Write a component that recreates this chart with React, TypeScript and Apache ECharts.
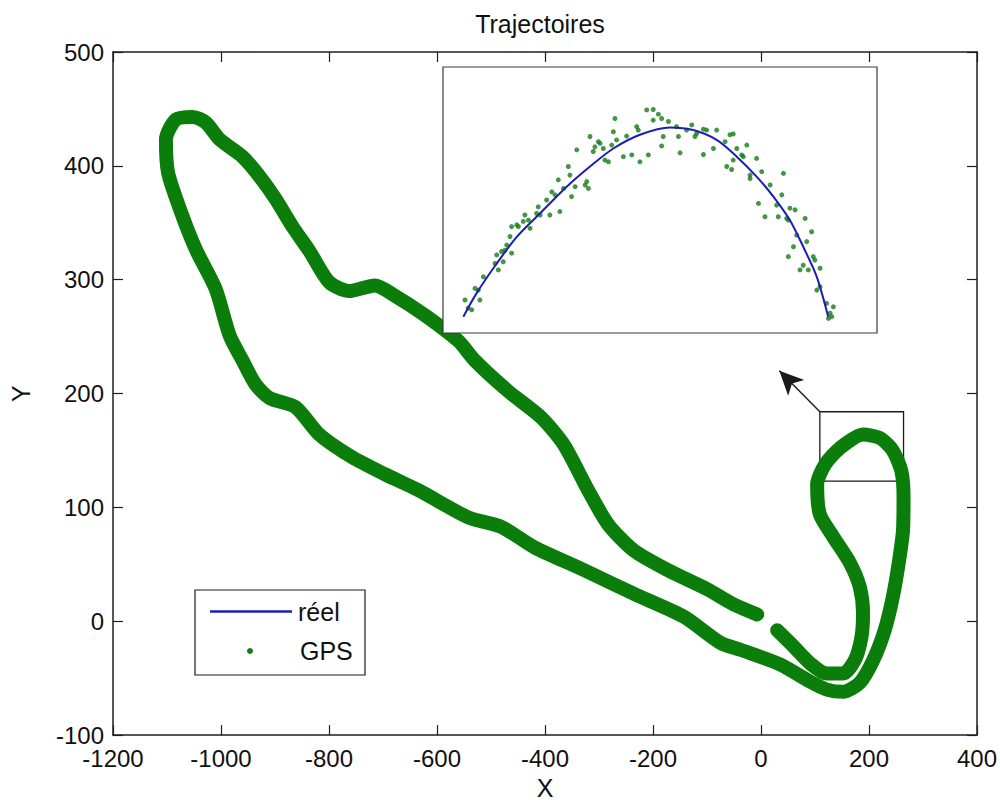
import { useEffect, useRef } from "react";
import * as echarts from "echarts";

const chartTitle = "Trajectoires";
const xAxisName = "X";
const yAxisName = "Y";
const xRange = [-1200, 400];
const xStep = 200;
const yRange = [-100, 500];
const yStep = 100;
const legendLabels = ["réel", "GPS"];

// main trajectory (x, y)
const trajectory: [number, number][] = [
  [30, -8], [60, -22], [91, -37], [122, -46], [152, -46], [174, -34], [186, -14], [189, 7],
  [183, 30], [165, 51], [134, 74], [109, 94], [104, 120], [119, 138], [146, 152], [189, 164],
  [220, 161], [244, 150], [260, 132], [264, 109], [263, 80], [255, 51], [244, 21], [229, -8],
  [208, -34], [183, -54], [152, -62], [122, -60], [91, -53], [36, -38], [-38, -25], [-75, -19],
  [-143, 4], [-235, 24], [-328, 45], [-420, 65], [-481, 83], [-541, 91], [-634, 115], [-696, 129],
  [-757, 144], [-818, 164], [-862, 188], [-910, 196], [-936, 208], [-960, 229], [-984, 251],
  [-1010, 292], [-1047, 327], [-1076, 362], [-1098, 394], [-1102, 423], [-1083, 441], [-1052, 443],
  [-1028, 438], [-1002, 423], [-960, 408], [-929, 391], [-899, 371], [-868, 347], [-836, 325],
  [-800, 298], [-763, 290], [-715, 295], [-678, 286], [-623, 269], [-560, 246], [-530, 229],
  [-468, 202], [-407, 179], [-365, 155], [-320, 115], [-283, 85], [-235, 62], [-173, 45],
  [-99, 28], [-51, 15], [-7, 6],
];

const zoomBox: [number, number][] = [[109, 184], [264, 123]];
const arrowFrom: [number, number] = [109, 184];
const arrowTo: [number, number] = [34, 220];

// inset (zoom of the boxed region)
const insetXRange = [115, 275];
const insetYRange = [122, 184];
const insetReal: [number, number][] = [
  [122.5, 125.8], [127.4, 131.3], [134.8, 138.2], [142.2, 144.4], [150.8, 149.9], [160.6, 156.1],
  [169.2, 160.8], [177.8, 165.0], [187.6, 168.2], [198.7, 169.9], [207.3, 169.3], [215.9, 167.0],
  [223.3, 163.1], [230.7, 158.4], [236.8, 153.8], [242.9, 148.3], [247.8, 142.1], [252.8, 135.1],
  [257.0, 125.8],
];
const insetGps: [number, number][] = [
  [123.1, 129.7], [124.3, 127.8], [125.6, 127.4], [126.8, 132.4], [128.0, 132.0], [128.6, 129.7],
  [129.9, 135.1], [134.2, 138.2], [134.8, 140.2], [135.4, 136.7], [136.6, 141.0], [137.2, 138.6],
  [137.9, 141.3], [138.5, 142.5], [139.7, 144.5], [140.3, 146.8], [140.3, 140.6], [142.2, 147.2],
  [142.8, 146.8], [144.6, 148.0], [145.2, 149.5], [146.5, 148.3], [147.1, 146.4], [149.5, 149.9],
  [150.1, 151.4], [150.8, 149.5], [153.2, 153.0], [154.4, 149.5], [155.1, 154.9], [156.3, 154.2],
  [157.5, 157.7], [158.1, 150.3], [159.4, 155.7], [161.2, 160.8], [161.8, 158.8], [162.4, 153.8],
  [163.7, 156.1], [164.3, 164.7], [167.4, 156.5], [168.0, 157.3], [168.6, 155.7], [169.2, 167.8],
  [170.4, 164.3], [171.0, 165.4], [172.3, 166.6], [172.9, 166.2], [174.1, 165.0], [174.7, 162.3],
  [176.0, 161.9], [177.2, 165.8], [177.8, 168.9], [178.4, 172.0], [179.0, 167.0], [181.5, 163.1],
  [182.7, 167.9], [184.6, 163.5], [186.4, 170.1], [187.0, 169.3], [187.6, 161.9], [190.1, 174.0],
  [190.7, 163.5], [192.5, 174.1], [192.5, 171.6], [194.4, 173.0], [195.6, 172.0], [195.6, 165.6],
  [196.2, 167.8], [198.1, 171.3], [201.1, 170.1], [201.8, 167.8], [202.4, 164.0], [204.8, 169.3],
  [206.7, 170.5], [207.9, 167.8], [208.5, 168.5], [211.0, 169.5], [211.0, 163.6], [212.2, 169.3],
  [214.7, 165.0], [215.9, 169.3], [219.0, 166.6], [219.6, 160.8], [220.8, 168.2], [221.4, 160.1],
  [222.0, 168.4], [222.0, 162.3], [223.3, 165.0], [225.1, 163.5], [225.7, 163.1], [227.0, 165.8],
  [228.2, 158.8], [228.2, 158.0], [230.6, 162.7], [231.3, 152.2], [232.5, 159.6], [233.7, 149.1],
  [235.6, 156.5], [238.0, 151.8], [238.6, 149.1], [239.9, 154.2], [240.5, 159.2], [241.7, 148.7],
  [242.3, 148.3], [242.3, 139.8], [242.9, 151.1], [244.2, 142.1], [244.8, 150.7], [245.4, 144.8],
  [246.6, 136.7], [247.8, 137.8], [248.5, 148.7], [249.1, 143.3], [249.7, 136.7], [250.9, 145.6],
  [251.5, 139.8], [252.1, 139.0], [252.8, 132.0], [254.0, 137.1], [254.0, 132.8], [256.4, 128.9],
  [257.1, 125.4], [258.3, 125.8], [258.9, 128.1], [257.7, 126.6],
];

const FONT = "'Liberation Sans', Arial, Helvetica, sans-serif";
const FS = 24;
const FS_TEXT = 25;
const GREEN = "#0a7d0a";
const DOT = "#157a15";
const BLUE = "#1c1cb8";
const AXIS = "#1e1e1e";
const TEXT = "#111111";

export default function App() {
  const ref = useRef<HTMLDivElement>(null);

  useEffect(() => {
    if (!ref.current) return;
    const chart = echarts.init(ref.current, undefined, { renderer: "svg" });

    const tick = { show: true, inside: true, length: 10, lineStyle: { color: AXIS, width: 1.2 } };
    const line = { show: true, onZero: false, lineStyle: { color: AXIS, width: 1.5 } };
    const plain = (v: number) => String(v);

    const option: any = {
      animation: false,
      backgroundColor: "#ffffff",
      title: {
        text: chartTitle,
        left: 540,
        top: 11,
        padding: 0,
        textAlign: "center",
        textStyle: { fontFamily: FONT, fontSize: FS_TEXT, fontWeight: "normal", color: TEXT },
      },
      grid: [
        { left: 110, top: 52, width: 868, height: 686, show: false },
        { left: 443, top: 67, width: 434, height: 266, show: false },
      ],
      xAxis: [
        {
          type: "value", gridIndex: 0, min: xRange[0], max: xRange[1], interval: xStep,
          position: "bottom", axisLine: line, axisTick: tick, splitLine: { show: false },
          axisLabel: {
            margin: 14, lineHeight: 18, color: TEXT, fontFamily: FONT, fontSize: FS, formatter: plain,
          },
          name: xAxisName, nameLocation: "middle", nameGap: 35,
          nameTextStyle: { fontFamily: FONT, fontSize: FS_TEXT, color: TEXT },
        },
        {
          type: "value", gridIndex: 0, min: xRange[0], max: xRange[1], interval: xStep,
          position: "top", axisLine: line, axisTick: tick, splitLine: { show: false },
          axisLabel: { show: false },
        },
        {
          type: "value", gridIndex: 1, min: insetXRange[0], max: insetXRange[1], show: false,
        },
      ],
      yAxis: [
        {
          type: "value", gridIndex: 0, min: yRange[0], max: yRange[1], interval: yStep,
          position: "left", axisLine: line, axisTick: tick, splitLine: { show: false },
          axisLabel: {
            margin: 9, lineHeight: 18, color: TEXT, fontFamily: FONT, fontSize: FS, formatter: plain,
          },
          name: yAxisName, nameLocation: "middle", nameGap: 80, nameRotate: 90,
          nameTextStyle: { fontFamily: FONT, fontSize: FS_TEXT, color: TEXT },
        },
        {
          type: "value", gridIndex: 0, min: yRange[0], max: yRange[1], interval: yStep,
          position: "right", axisLine: line, axisTick: tick, splitLine: { show: false },
          axisLabel: { show: false },
        },
        {
          type: "value", gridIndex: 1, min: insetYRange[0], max: insetYRange[1], show: false,
        },
      ],
      series: [
        {
          type: "line", name: legendLabels[0], xAxisIndex: 0, yAxisIndex: 0, data: trajectory,
          symbol: "none", smooth: 0.25, lineStyle: { color: BLUE, width: 2 }, z: 2,
        },
        {
          type: "line", name: legendLabels[1], xAxisIndex: 0, yAxisIndex: 0, data: trajectory,
          symbol: "none", smooth: 0.25,
          lineStyle: { color: GREEN, width: 14, cap: "round", join: "round" }, z: 2,
        },
        {
          type: "scatter", name: "annotation", xAxisIndex: 0, yAxisIndex: 0, data: [], z: 4,
          markArea: {
            silent: true,
            label: { show: false },
            itemStyle: { color: "rgba(0,0,0,0)", borderColor: "#1a1a1a", borderWidth: 1.3 },
            data: [[{ coord: zoomBox[0] }, { coord: zoomBox[1] }]],
          },
          markLine: {
            silent: true,
            symbol: ["none", "arrow"],
            symbolSize: [17, 24],
            label: { show: false },
            lineStyle: { color: "#1a1a1a", width: 1.4, type: "solid" },
            itemStyle: { color: "#111" },
            data: [[{ coord: arrowFrom }, { coord: arrowTo }]],
          },
        },
        {
          type: "scatter", name: "GPS zoom", xAxisIndex: 2, yAxisIndex: 2, data: insetGps,
          symbol: "circle", symbolSize: 5, itemStyle: { color: DOT }, z: 11,
        },
        {
          type: "line", name: "réel zoom", xAxisIndex: 2, yAxisIndex: 2, data: insetReal,
          symbol: "none", smooth: 0.3, lineStyle: { color: BLUE, width: 2 }, z: 12,
        },
      ],
      graphic: [
        {
          type: "rect", z: 8, silent: true,
          shape: { x: 443, y: 67, width: 434, height: 266 },
          style: { fill: "#ffffff", stroke: "#3a3a3a", lineWidth: 1.2 },
        },
        {
          type: "group", z: 20, silent: true,
          children: [
            {
              type: "rect", z: 20,
              shape: { x: 195, y: 590, width: 170, height: 85 },
              style: { fill: "#ffffff", stroke: "#1a1a1a", lineWidth: 1.2 },
            },
            {
              type: "line", z: 21,
              shape: { x1: 210, y1: 611.5, x2: 292, y2: 611.5 },
              style: { stroke: BLUE, lineWidth: 2.6 },
            },
            {
              type: "text", z: 21, x: 298, y: 612,
              style: { text: legendLabels[0], fill: TEXT, font: `${FS_TEXT}px ${FONT}`, verticalAlign: "middle", align: "left" },
            },
            {
              type: "circle", z: 21,
              shape: { cx: 250, cy: 651, r: 3 },
              style: { fill: DOT },
            },
            {
              type: "text", z: 21, x: 300, y: 651,
              style: { text: legendLabels[1], fill: TEXT, font: `${FS_TEXT}px ${FONT}`, verticalAlign: "middle", align: "left" },
            },
          ],
        },
      ],
    };

    chart.setOption(option);
    return () => chart.dispose();
  }, []);

  return (
    <div
      ref={ref}
      style={{ position: "absolute", left: 0, top: 0, width: 1000, height: 805, background: "#fff" }}
    />
  );
}
